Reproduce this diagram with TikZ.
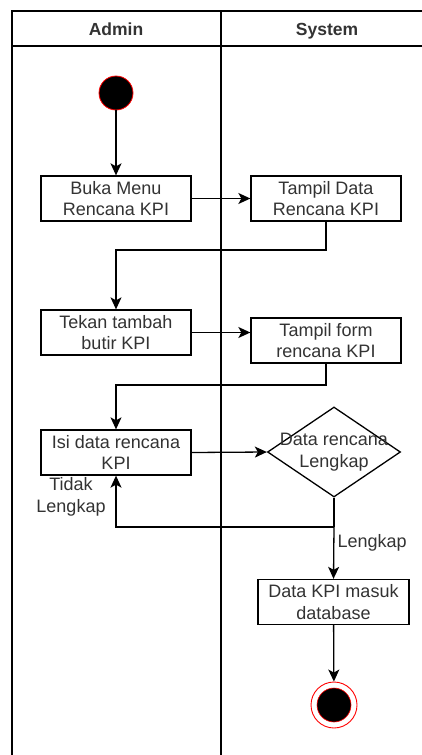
\documentclass[tikz,border=0pt]{standalone}
\usepackage{fontspec}
\setmainfont{Liberation Sans}
\usetikzlibrary{arrows.meta,shapes.geometric}
\definecolor{txt}{HTML}{333333}
\definecolor{ring}{HTML}{FF0000}
\begin{document}
\begin{tikzpicture}[x=1pt,y=-1pt,
  line width=1.3pt,
  lbl/.style={font=\fontsize{18}{21.5}\selectfont,text=txt,align=center,inner sep=0pt},
  actbox/.style={draw,rectangle,minimum width=150pt,minimum height=45pt,inner sep=0pt,
    font=\fontsize{18}{21.5}\selectfont,text=txt,align=center},
  flow/.style={-{Stealth[length=12pt,width=11pt,inset=3pt]}},
  hdr/.style={font=\bfseries\fontsize{17.5}{21}\selectfont,text=txt,anchor=base}]
\useasboundingbox (0,0) rectangle (422,755);
\fill[white] (0,0) rectangle (422,755);

% swimlane frame
\draw (12,755) -- (12,11) -- (422,11);
\draw (12,46) -- (422,46);
\draw (221,11) -- (221,755);
\node[hdr] (hA) at (116,35) {Admin};
\node[hdr] (hS) at (327,35) {System};

% start node
\node[circle,fill=black,draw=ring,line width=0.8pt,minimum size=34pt,inner sep=0pt] (start) at (116,93) {};

% actions
\node[actbox] (buka)  at (116,198.5) {Buka Menu\\Rencana KPI};
\node[actbox] (tdata) at (326,198.5) {Tampil Data\\Rencana KPI};
\node[actbox] (tekan) at (116,332.5) {Tekan tambah\\butir KPI};
\node[actbox] (tform) at (326,340.5) {Tampil form\\rencana KPI};
\node[actbox] (isi)   at (116,452.5) {Isi data rencana\\KPI};
\node[draw,diamond,minimum width=133pt,minimum height=90pt,inner sep=0pt] (dec) at (334,452) {};
\node[lbl] (dectxt) at (334,452) {Data rencana\\Lengkap};
\node[actbox,minimum width=151pt] (simpan) at (333.5,602) {Data KPI masuk\\database};

% end node
\node[circle,draw=ring,line width=0.9pt,fill=white,minimum size=46pt,inner sep=0pt] (end) at (334,705) {};
\node[circle,fill=black,draw=ring,line width=0.6pt,minimum size=34pt,inner sep=0pt] (endin) at (334,705) {};

% junction below the decision
\coordinate (j) at (334,527);

% control flow
\draw[flow] (start) -- (buka);
\draw[flow] (buka) -- (tdata);
\draw[flow] (tdata.south) |- (116,250) -- (tekan.north);
\draw[flow] (tekan.east) -- (tform.west |- tekan.east);
\draw[flow] (tform.south) |- (116,385) -- (isi.north);
\draw[flow] (isi.east) -- (dec.west);
\draw (dec.south) -- (j);
\draw[flow] (j) -| (isi.south);
\draw[flow] (j) -- (simpan.north);
\draw[flow] (simpan) -- (end);

% guard labels
\node[lbl] (gno) at (71,497) {Tidak\\Lengkap};
\node[lbl,anchor=west] (gyes) at (337,543) {Lengkap};
\end{tikzpicture}
\end{document}
